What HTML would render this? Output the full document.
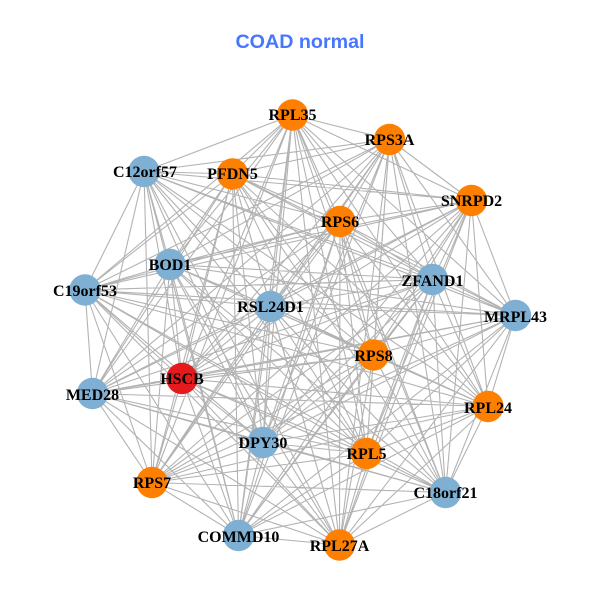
<!DOCTYPE html>
<html><head><meta charset="utf-8"><style>
html,body{margin:0;padding:0;background:#fff}
svg{display:block}
.l{font:bold 16px "Liberation Serif",serif;text-anchor:middle;fill:#000}
</style></head><body>
<svg width="600" height="600" viewBox="0 0 600 600" xmlns="http://www.w3.org/2000/svg">
<rect width="600" height="600" fill="#fff"/>
<path fill="none" stroke="#b3b3b3" stroke-width="1.1" d="
M292.5 115L389.5 139.5M292.5 115L471.5 200.5M292.5 115L232.5 174M292.5 115L144 171.5M292.5 115L340 221.5M292.5 115L170 264.5M292.5 115L432.5 279.5M292.5 115L85 290M292.5 115L270.5 306.5M292.5 115L515.5 315.5M292.5 115L373.5 355M292.5 115L182 378.5M292.5 115L92.5 393.5M292.5 115L488 406.5M292.5 115L263 442.5M292.5 115L366.5 453.5M292.5 115L152 482.5M292.5 115L445.5 492.5M292.5 115L238.5 535.5M292.5 115L339.5 545
M389.5 139.5L471.5 200.5M389.5 139.5L232.5 174M389.5 139.5L144 171.5M389.5 139.5L340 221.5M389.5 139.5L170 264.5M389.5 139.5L432.5 279.5M389.5 139.5L85 290M389.5 139.5L270.5 306.5M389.5 139.5L515.5 315.5M389.5 139.5L373.5 355M389.5 139.5L182 378.5M389.5 139.5L92.5 393.5M389.5 139.5L488 406.5M389.5 139.5L263 442.5M389.5 139.5L366.5 453.5M389.5 139.5L152 482.5M389.5 139.5L445.5 492.5M389.5 139.5L238.5 535.5M389.5 139.5L339.5 545
M471.5 200.5L232.5 174M471.5 200.5L144 171.5M471.5 200.5L340 221.5M471.5 200.5L170 264.5M471.5 200.5L432.5 279.5M471.5 200.5L85 290M471.5 200.5L270.5 306.5M471.5 200.5L515.5 315.5M471.5 200.5L373.5 355M471.5 200.5L182 378.5M471.5 200.5L92.5 393.5M471.5 200.5L488 406.5M471.5 200.5L263 442.5M471.5 200.5L366.5 453.5M471.5 200.5L152 482.5M471.5 200.5L445.5 492.5M471.5 200.5L238.5 535.5M471.5 200.5L339.5 545
M232.5 174L144 171.5M232.5 174L340 221.5M232.5 174L170 264.5M232.5 174L432.5 279.5M232.5 174L85 290M232.5 174L270.5 306.5M232.5 174L515.5 315.5M232.5 174L373.5 355M232.5 174L182 378.5M232.5 174L92.5 393.5M232.5 174L488 406.5M232.5 174L263 442.5M232.5 174L366.5 453.5M232.5 174L152 482.5M232.5 174L445.5 492.5M232.5 174L238.5 535.5M232.5 174L339.5 545
M144 171.5L340 221.5M144 171.5L170 264.5M144 171.5L432.5 279.5M144 171.5L85 290M144 171.5L270.5 306.5M144 171.5L515.5 315.5M144 171.5L373.5 355M144 171.5L182 378.5M144 171.5L92.5 393.5M144 171.5L488 406.5M144 171.5L263 442.5M144 171.5L366.5 453.5M144 171.5L152 482.5M144 171.5L445.5 492.5M144 171.5L238.5 535.5M144 171.5L339.5 545
M340 221.5L170 264.5M340 221.5L432.5 279.5M340 221.5L85 290M340 221.5L270.5 306.5M340 221.5L515.5 315.5M340 221.5L373.5 355M340 221.5L182 378.5M340 221.5L92.5 393.5M340 221.5L488 406.5M340 221.5L263 442.5M340 221.5L366.5 453.5M340 221.5L152 482.5M340 221.5L445.5 492.5M340 221.5L238.5 535.5M340 221.5L339.5 545
M170 264.5L432.5 279.5M170 264.5L85 290M170 264.5L270.5 306.5M170 264.5L515.5 315.5M170 264.5L373.5 355M170 264.5L182 378.5M170 264.5L92.5 393.5M170 264.5L488 406.5M170 264.5L263 442.5M170 264.5L366.5 453.5M170 264.5L152 482.5M170 264.5L445.5 492.5M170 264.5L238.5 535.5M170 264.5L339.5 545
M432.5 279.5L85 290M432.5 279.5L270.5 306.5M432.5 279.5L515.5 315.5M432.5 279.5L373.5 355M432.5 279.5L182 378.5M432.5 279.5L92.5 393.5M432.5 279.5L488 406.5M432.5 279.5L263 442.5M432.5 279.5L366.5 453.5M432.5 279.5L152 482.5M432.5 279.5L445.5 492.5M432.5 279.5L238.5 535.5M432.5 279.5L339.5 545
M85 290L270.5 306.5M85 290L515.5 315.5M85 290L373.5 355M85 290L182 378.5M85 290L92.5 393.5M85 290L488 406.5M85 290L263 442.5M85 290L366.5 453.5M85 290L152 482.5M85 290L445.5 492.5M85 290L238.5 535.5M85 290L339.5 545
M270.5 306.5L515.5 315.5M270.5 306.5L373.5 355M270.5 306.5L182 378.5M270.5 306.5L92.5 393.5M270.5 306.5L488 406.5M270.5 306.5L263 442.5M270.5 306.5L366.5 453.5M270.5 306.5L152 482.5M270.5 306.5L445.5 492.5M270.5 306.5L238.5 535.5M270.5 306.5L339.5 545
M515.5 315.5L373.5 355M515.5 315.5L182 378.5M515.5 315.5L92.5 393.5M515.5 315.5L488 406.5M515.5 315.5L263 442.5M515.5 315.5L366.5 453.5M515.5 315.5L152 482.5M515.5 315.5L445.5 492.5M515.5 315.5L238.5 535.5M515.5 315.5L339.5 545
M373.5 355L182 378.5M373.5 355L92.5 393.5M373.5 355L488 406.5M373.5 355L263 442.5M373.5 355L366.5 453.5M373.5 355L152 482.5M373.5 355L445.5 492.5M373.5 355L238.5 535.5M373.5 355L339.5 545
M182 378.5L92.5 393.5M182 378.5L488 406.5M182 378.5L263 442.5M182 378.5L366.5 453.5M182 378.5L152 482.5M182 378.5L445.5 492.5M182 378.5L238.5 535.5M182 378.5L339.5 545
M92.5 393.5L488 406.5M92.5 393.5L263 442.5M92.5 393.5L366.5 453.5M92.5 393.5L152 482.5M92.5 393.5L445.5 492.5M92.5 393.5L238.5 535.5M92.5 393.5L339.5 545
M488 406.5L263 442.5M488 406.5L366.5 453.5M488 406.5L152 482.5M488 406.5L445.5 492.5M488 406.5L238.5 535.5M488 406.5L339.5 545
M263 442.5L366.5 453.5M263 442.5L152 482.5M263 442.5L445.5 492.5M263 442.5L238.5 535.5M263 442.5L339.5 545
M366.5 453.5L152 482.5M366.5 453.5L445.5 492.5M366.5 453.5L238.5 535.5M366.5 453.5L339.5 545
M152 482.5L445.5 492.5M152 482.5L238.5 535.5M152 482.5L339.5 545
M445.5 492.5L238.5 535.5M445.5 492.5L339.5 545
M238.5 535.5L339.5 545"/>
<g fill="#ff7f00">
<circle cx="292.5" cy="115" r="15.7"/><circle cx="389.5" cy="139.5" r="15.7"/><circle cx="471.5" cy="200.5" r="15.7"/><circle cx="232.5" cy="174" r="15.7"/><circle cx="340" cy="221.5" r="15.7"/><circle cx="373.5" cy="355" r="15.7"/><circle cx="488" cy="406.5" r="15.7"/><circle cx="366.5" cy="453.5" r="15.7"/><circle cx="152" cy="482.5" r="15.7"/><circle cx="339.5" cy="545" r="15.7"/>
</g>
<g fill="#7fb0d3">
<circle cx="144" cy="171.5" r="15.7"/><circle cx="170" cy="264.5" r="15.7"/><circle cx="432.5" cy="279.5" r="15.7"/><circle cx="85" cy="290" r="15.7"/><circle cx="270.5" cy="306.5" r="15.7"/><circle cx="515.5" cy="315.5" r="15.7"/><circle cx="92.5" cy="393.5" r="15.7"/><circle cx="263" cy="442.5" r="15.7"/><circle cx="445.5" cy="492.5" r="15.7"/><circle cx="238.5" cy="535.5" r="15.7"/>
</g>
<circle cx="182" cy="378.5" r="15.7" fill="#e41a1c"/>
<g class="l">
<text class="l" x="292.5" y="120">RPL35</text>
<text class="l" x="389.5" y="145">RPS3A</text>
<text class="l" x="471.5" y="206">SNRPD2</text>
<text class="l" x="232.5" y="179">PFDN5</text>
<text class="l" x="145" y="177">C12orf57</text>
<text class="l" x="340" y="227">RPS6</text>
<text class="l" x="170" y="270">BOD1</text>
<text class="l" x="432.5" y="286">ZFAND1</text>
<text class="l" x="85" y="296">C19orf53</text>
<text class="l" x="270.5" y="312">RSL24D1</text>
<text class="l" x="515.5" y="322">MRPL43</text>
<text class="l" x="373.5" y="361">RPS8</text>
<text class="l" x="182" y="384">HSCB</text>
<text class="l" x="92.5" y="400">MED28</text>
<text class="l" x="488" y="413">RPL24</text>
<text class="l" x="263" y="448">DPY30</text>
<text class="l" x="366.5" y="459">RPL5</text>
<text class="l" x="152" y="488">RPS7</text>
<text class="l" x="445.5" y="498">C18orf21</text>
<text class="l" x="238.5" y="542">COMMD10</text>
<text class="l" x="339.5" y="551">RPL27A</text>
</g>
<text x="300" y="48" text-anchor="middle" style="font:bold 19.7px 'Liberation Sans',sans-serif" fill="#4876ff">COAD normal</text>
</svg>
</body></html>
